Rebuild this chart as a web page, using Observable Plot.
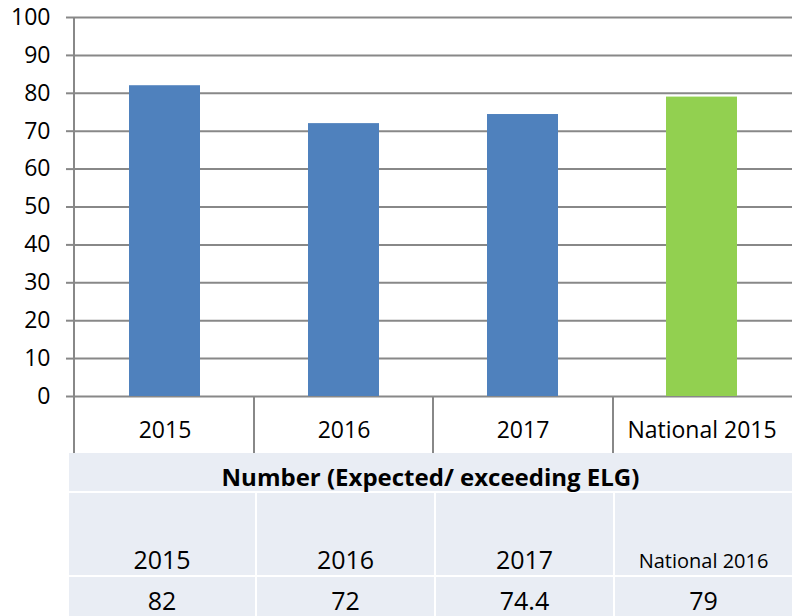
<!DOCTYPE html>
<html>
<head>
<meta charset="utf-8">
<script src="https://cdn.jsdelivr.net/npm/d3@7"></script>
<script src="https://cdn.jsdelivr.net/npm/@observablehq/plot@0.6"></script>
<style>
  html, body { margin: 0; padding: 0; background: #fff; }
  #wrap { position: relative; width: 792px; height: 616px; overflow: hidden; font-family: "Open Sans", Lato, sans-serif; }
  #chart svg { display: block; }
  #table { position: absolute; left: 69px; top: 453px; width: 723px;
    display: grid; grid-template-columns: 186px 177px 177px 177px; column-gap: 2px; row-gap: 2px;
    grid-template-rows: 38px 82px 39px; }
  .cell { background: #E9EDF4; color: #000; font-size: 25px; text-align: center; box-sizing: border-box; overflow: visible; }
  .head { grid-column: 1 / span 4; font-weight: bold; font-size: 24px; line-height: 38px; padding-top: 5px; }
  .lab { display: flex; align-items: flex-end; justify-content: center; padding-bottom: 3px; line-height: 1; }
  .lab.small { font-size: 20px; padding-bottom: 4px; }
  .val { line-height: 39px; padding-top: 4px; }
</style>
</head>
<body>
<div id="wrap">
  <div id="chart"></div>
  <div id="table"></div>
</div>
<script>
const categories = ["2015", "2016", "2017", "National 2015"];
const values = [82, 72, 74.4, 79];
const barColors = ["#4F81BD", "#4F81BD", "#4F81BD", "#92D050"];
const yTicks = [0, 10, 20, 30, 40, 50, 60, 70, 80, 90, 100];
const tableTitle = "Number (Expected/ exceeding ELG)";
const tableLabels = ["2015", "2016", "2017", "National 2016"];
const tableValues = ["82", "72", "74.4", "79"];

const data = categories.map((c, i) => ({cat: c, value: values[i], color: barColors[i]}));

const W = 792, H = 453, ML = 74, MT = 17, MB = 57;
const FONT = "'Open Sans', Lato, sans-serif";

// custom mark: y-axis line and category separators at band boundaries
function separators(index, scales, values, dims) {
  const band = d3.scaleBand().domain(categories).range([dims.marginLeft, dims.width - dims.marginRight]);
  const g = d3.create("svg:g");
  const y0 = scales.y(0);
  categories.forEach((c, i) => {
    const x = Math.round(band(c));
    g.append("line")
      .attr("x1", x).attr("x2", x)
      .attr("y1", i === 0 ? dims.marginTop : y0)
      .attr("y2", dims.height)
      .attr("stroke", "#888").attr("stroke-width", 2);
  });
  return g.node();
}

const chart = Plot.plot({
  width: W,
  height: H,
  marginLeft: ML,
  marginRight: 0,
  marginTop: MT,
  marginBottom: MB,
  style: { fontFamily: FONT, fontSize: "23px", color: "#000", background: "#fff" },
  x: { domain: categories, paddingInner: 0.605, paddingOuter: 0.3025, label: null },
  y: { domain: [0, 100], label: null },
  marks: [
    Plot.gridY(yTicks, { stroke: "#888", strokeOpacity: 1, strokeWidth: 2 }),
    Plot.barY(data, { x: "cat", y: "value", fill: "color" }),
    Plot.axisY(yTicks, { tickSize: 8, tickPadding: 16, fontSize: 23, fill: "#000", stroke: "#888", strokeWidth: 2 }),
    Plot.axisX({ tickSize: 0, tickPadding: 25, fontSize: 23, fill: "#000" }),
    separators
  ]
});
document.getElementById("chart").appendChild(chart);

const table = document.getElementById("table");
const head = document.createElement("div");
head.className = "cell head";
head.textContent = tableTitle;
table.appendChild(head);
tableLabels.forEach(t => {
  const d = document.createElement("div");
  d.className = "cell lab" + (t.length > 6 ? " small" : "");
  d.textContent = t;
  table.appendChild(d);
});
tableValues.forEach(t => {
  const d = document.createElement("div");
  d.className = "cell val";
  d.textContent = t;
  table.appendChild(d);
});
</script>
</body>
</html>
